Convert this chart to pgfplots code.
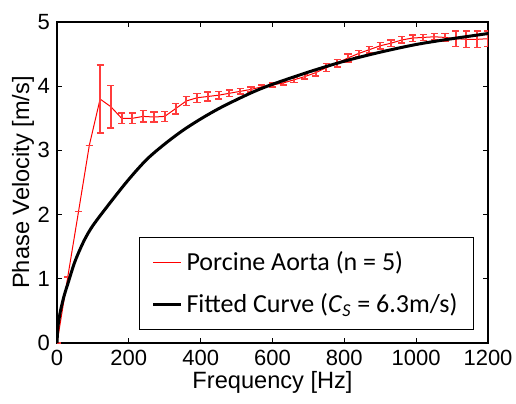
\documentclass[border=0pt]{standalone}
\usepackage{fontspec}
\setmainfont{Liberation Sans}
\newfontfamily\legfont{Carlito}
\usepackage{pgfplots}
\usepackage{pgfplotstable}
\pgfplotsset{compat=1.18}
\definecolor{errred}{RGB}{255,60,60}

\pgfplotstableread{
f v e
0 0 0
30 1.03 0
60 2.05 0
90 3.08 0
120 3.80 0.53
150 3.68 0.33
180 3.50 0.08
210 3.50 0.08
240 3.53 0.09
270 3.52 0.08
300 3.53 0.08
330 3.65 0.08
360 3.77 0.07
390 3.82 0.07
420 3.84 0.07
450 3.86 0.06
480 3.89 0.05
510 3.92 0.04
540 3.95 0.04
570 3.99 0.03
600 4.02 0.03
630 4.05 0.03
660 4.10 0.04
690 4.15 0.04
720 4.21 0.05
750 4.29 0.06
780 4.36 0.06
810 4.44 0.06
840 4.51 0.05
870 4.57 0.05
900 4.63 0.05
930 4.67 0.05
960 4.72 0.05
990 4.75 0.05
1020 4.76 0.05
1050 4.77 0.05
1080 4.76 0.06
1110 4.74 0.12
1140 4.73 0.13
1170 4.73 0.13
1200 4.74 0.12
}\porcine

\pgfplotstableread{
f v
0 0
2 0.22
5 0.35
10 0.51
20 0.74
30 0.92
50 1.27
75 1.59
100 1.83
150 2.20
200 2.55
250 2.86
300 3.10
350 3.31
400 3.49
450 3.65
500 3.79
550 3.92
600 4.03
700 4.22
800 4.39
900 4.53
1000 4.65
1100 4.74
1200 4.82
}\fitted

\begin{document}
\begin{tikzpicture}
\begin{axis}[
  scale only axis,
  width=215.5pt, height=160.5pt,
  xmin=0, xmax=1200, ymin=0, ymax=5,
  xtick={0,200,...,1200}, ytick={0,1,...,5},
  tick align=inside,
  major tick length=2.5pt,
  tick style={black, line width=0.4pt},
  axis line style={line width=0.6pt},
  /pgf/number format/assume math mode=true,
  /pgf/number format/set thousands separator={},
  scaled x ticks=false,
  tick label style={font=\fontsize{11}{13}\selectfont},
  label style={font=\fontsize{11.8}{14}\selectfont},
  xlabel={Frequency [Hz]},
  ylabel={Phase Velocity [m/s]},
  xlabel style={yshift=4pt},
  ylabel style={yshift=-5pt},
  legend cell align=left,
  legend style={at={(0.9675,0.0405)}, anchor=south east,
    draw=black, line width=0.5pt,
    font=\legfont\fontsize{13}{15}\selectfont,
    inner xsep=6pt, inner ysep=5pt, row sep=6pt},
  legend image code/.code={\draw[#1] (0pt,0pt) -- (14pt,0pt);},
]
\addplot[red, line width=0.5pt, mark=none,
  error bars/.cd, y dir=both, y explicit,
  error bar style={errred, line width=1pt},
  error mark options={rotate=90, mark size=1.8pt, errred, line width=0.7pt}]
  table[x=f, y=v, y error=e] {\porcine};
\addlegendentry{Porcine Aorta (n = 5)}
\addplot[black, line width=1.5pt, smooth, mark=none] table[x=f, y=v] {\fitted};
\addlegendentry{Fitted Curve (\textit{C}\textsubscript{\textit{S}} = 6.3m/s)}
\end{axis}
\pgfresetboundingbox
\path ([xshift=-28.5pt,yshift=-30pt]current axis.south west) rectangle ([xshift=14pt,yshift=11pt]current axis.north east);
\end{tikzpicture}
\end{document}
